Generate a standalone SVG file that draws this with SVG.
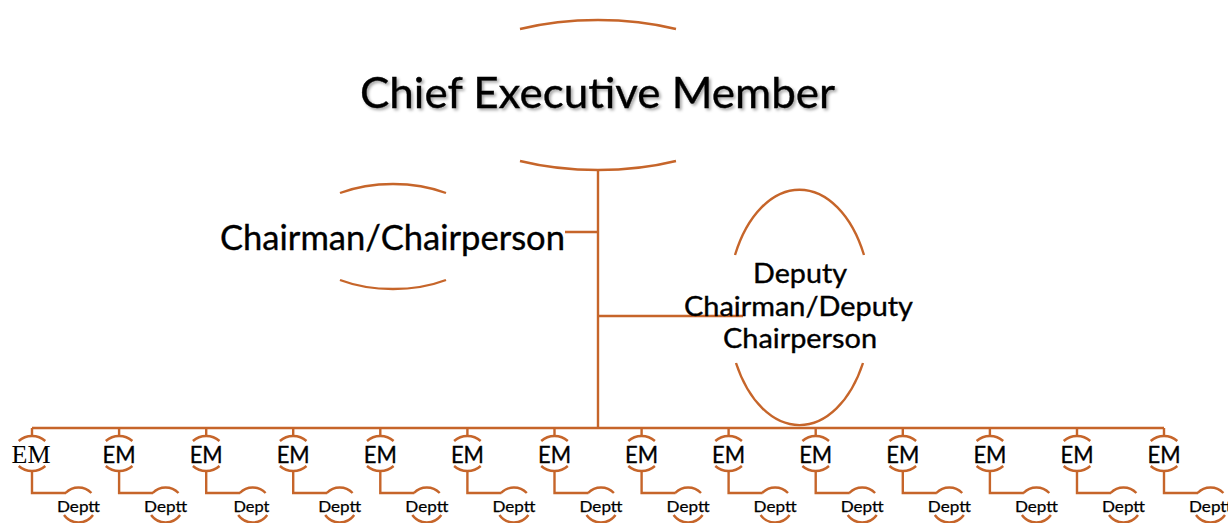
<svg xmlns="http://www.w3.org/2000/svg" xmlns:xlink="http://www.w3.org/1999/xlink" width="1228" height="523" viewBox="0 0 1228 523">
  <style>
    .arc { fill: none; stroke: #C6652A; stroke-width: 2.4; }
    .wire { fill: none; stroke: #C6652A; stroke-width: 2.4; }
    .lbl { font-family: Lato, "Open Sans", "Liberation Sans", sans-serif; fill: #000; stroke: #000; stroke-width: 0.35; text-anchor: middle; }
    .em { font-size: 23px; }
    .dept { font-size: 16px; stroke-width: 0.25; }
    .serif { font-family: "Liberation Serif", "DejaVu Serif", serif; font-size: 25px; fill: #000; text-anchor: middle; }
  </style>
  <defs>
    <!-- top and bottom arcs of the small member ellipse, centred on 0,0 -->
    <path id="em-arcs" class="arc" d="M-13.3,-12.5 A19,17.5 0 0 1 13.3,-12.5 M-13.3,12.5 A19,17.5 0 0 0 13.3,12.5"/>
    <!-- arcs of the department ellipse, centred on 0,0 -->
    <path id="dept-arcs" class="arc" d="M-12.9,-12 A17.7,17.5 0 0 1 12.9,-12 M-14.5,10 A17.7,17.5 0 0 0 14.5,10"/>
    <filter id="soft-shadow" x="-5%" y="-30%" width="110%" height="160%">
      <feDropShadow dx="2" dy="2" stdDeviation="1.5" flood-color="#000" flood-opacity="0.35"/>
    </filter>
  </defs>

  <rect width="1228" height="523" fill="#fff"/>

  <!-- connectors -->
  <g id="connectors">
    <path class="wire" d="M598,170 V428"/>
    <path class="wire" d="M565,232 H598"/>
    <path class="wire" d="M598,316 H743"/>
    <path class="wire" d="M32,428 H1164"/>
    <!-- stubs from bus to each member -->
    <path class="wire" d="M32,428 V436 M119.1,428 V436 M206.2,428 V436 M293.2,428 V436 M380.3,428 V436 M467.4,428 V436 M554.5,428 V436 M641.6,428 V436 M728.6,428 V436 M815.7,428 V436 M902.8,428 V436 M989.9,428 V436 M1077,428 V436 M1164,428 V436"/>
    <!-- elbows from each member down to its department -->
    <path class="wire" d="M32,471 V493 H66 M119.1,471 V493 H153.1 M206.2,471 V493 H240.2 M293.2,471 V493 H327.2 M380.3,471 V493 H414.3 M467.4,471 V493 H501.4 M554.5,471 V493 H588.5 M641.6,471 V493 H675.6 M728.6,471 V493 H762.6 M815.7,471 V493 H849.7 M902.8,471 V493 H936.8 M989.9,471 V493 H1023.9 M1077,471 V493 H1111 M1164,471 V493 H1198"/>
  </g>

  <!-- chief executive member -->
  <g id="chief">
    <path class="arc" d="M520,29 A164,75 0 0 1 676,29 M520,161 A164,75 0 0 0 676,161"/>
    <text class="lbl" x="597.5" y="108" font-size="42" textLength="475" lengthAdjust="spacingAndGlyphs" filter="url(#soft-shadow)">Chief Executive Member</text>
  </g>

  <!-- chairman -->
  <g id="chairman">
    <path class="arc" d="M340,193 A94,52 0 0 1 446,193 M340,280 A94,52 0 0 0 446,280"/>
    <text class="lbl" x="392.5" y="250" font-size="34" textLength="345" lengthAdjust="spacingAndGlyphs">Chairman/Chairperson</text>
  </g>

  <!-- deputy -->
  <g id="deputy">
    <path class="arc" d="M735,255 A72,117.5 0 0 1 864,255 M736,363 A72,117.5 0 0 0 863,363"/>
    <text class="lbl" x="800" y="283" font-size="26" textLength="94" lengthAdjust="spacingAndGlyphs">Deputy</text>
    <text class="lbl" x="798.5" y="316" font-size="26" textLength="229" lengthAdjust="spacingAndGlyphs">Chairman/Deputy</text>
    <text class="lbl" x="800" y="348" font-size="26" textLength="154" lengthAdjust="spacingAndGlyphs">Chairperson</text>
  </g>

  <!-- executive members -->
  <g id="em-1"><use xlink:href="#em-arcs" transform="translate(32,453.5)"/><text class="serif" x="31" y="462.5" textLength="39" lengthAdjust="spacingAndGlyphs">EM</text></g>
  <g id="em-2"><use xlink:href="#em-arcs" transform="translate(119.1,453.5)"/><text class="lbl em" x="119.1" y="462.5" textLength="33" lengthAdjust="spacingAndGlyphs">EM</text></g>
  <g id="em-3"><use xlink:href="#em-arcs" transform="translate(206.2,453.5)"/><text class="lbl em" x="206.2" y="462.5" textLength="33" lengthAdjust="spacingAndGlyphs">EM</text></g>
  <g id="em-4"><use xlink:href="#em-arcs" transform="translate(293.2,453.5)"/><text class="lbl em" x="293.2" y="462.5" textLength="33" lengthAdjust="spacingAndGlyphs">EM</text></g>
  <g id="em-5"><use xlink:href="#em-arcs" transform="translate(380.3,453.5)"/><text class="lbl em" x="380.3" y="462.5" textLength="33" lengthAdjust="spacingAndGlyphs">EM</text></g>
  <g id="em-6"><use xlink:href="#em-arcs" transform="translate(467.4,453.5)"/><text class="lbl em" x="467.4" y="462.5" textLength="33" lengthAdjust="spacingAndGlyphs">EM</text></g>
  <g id="em-7"><use xlink:href="#em-arcs" transform="translate(554.5,453.5)"/><text class="lbl em" x="554.5" y="462.5" textLength="33" lengthAdjust="spacingAndGlyphs">EM</text></g>
  <g id="em-8"><use xlink:href="#em-arcs" transform="translate(641.6,453.5)"/><text class="lbl em" x="641.6" y="462.5" textLength="33" lengthAdjust="spacingAndGlyphs">EM</text></g>
  <g id="em-9"><use xlink:href="#em-arcs" transform="translate(728.6,453.5)"/><text class="lbl em" x="728.6" y="462.5" textLength="33" lengthAdjust="spacingAndGlyphs">EM</text></g>
  <g id="em-10"><use xlink:href="#em-arcs" transform="translate(815.7,453.5)"/><text class="lbl em" x="815.7" y="462.5" textLength="33" lengthAdjust="spacingAndGlyphs">EM</text></g>
  <g id="em-11"><use xlink:href="#em-arcs" transform="translate(902.8,453.5)"/><text class="lbl em" x="902.8" y="462.5" textLength="33" lengthAdjust="spacingAndGlyphs">EM</text></g>
  <g id="em-12"><use xlink:href="#em-arcs" transform="translate(989.9,453.5)"/><text class="lbl em" x="989.9" y="462.5" textLength="33" lengthAdjust="spacingAndGlyphs">EM</text></g>
  <g id="em-13"><use xlink:href="#em-arcs" transform="translate(1077,453.5)"/><text class="lbl em" x="1077" y="462.5" textLength="33" lengthAdjust="spacingAndGlyphs">EM</text></g>
  <g id="em-14"><use xlink:href="#em-arcs" transform="translate(1164,453.5)"/><text class="lbl em" x="1164" y="462.5" textLength="33" lengthAdjust="spacingAndGlyphs">EM</text></g>

  <!-- departments -->
  <g id="dept-1"><use xlink:href="#dept-arcs" transform="translate(78.5,505)"/><text class="lbl dept" x="78.5" y="512" textLength="43" lengthAdjust="spacingAndGlyphs">Deptt</text></g>
  <g id="dept-2"><use xlink:href="#dept-arcs" transform="translate(165.6,505)"/><text class="lbl dept" x="165.6" y="512" textLength="43" lengthAdjust="spacingAndGlyphs">Deptt</text></g>
  <g id="dept-3"><use xlink:href="#dept-arcs" transform="translate(252.7,505)"/><text class="lbl dept" x="251.5" y="512" textLength="36" lengthAdjust="spacingAndGlyphs">Dept</text></g>
  <g id="dept-4"><use xlink:href="#dept-arcs" transform="translate(339.7,505)"/><text class="lbl dept" x="339.7" y="512" textLength="43" lengthAdjust="spacingAndGlyphs">Deptt</text></g>
  <g id="dept-5"><use xlink:href="#dept-arcs" transform="translate(426.8,505)"/><text class="lbl dept" x="426.8" y="512" textLength="43" lengthAdjust="spacingAndGlyphs">Deptt</text></g>
  <g id="dept-6"><use xlink:href="#dept-arcs" transform="translate(513.9,505)"/><text class="lbl dept" x="513.9" y="512" textLength="43" lengthAdjust="spacingAndGlyphs">Deptt</text></g>
  <g id="dept-7"><use xlink:href="#dept-arcs" transform="translate(601,505)"/><text class="lbl dept" x="601" y="512" textLength="43" lengthAdjust="spacingAndGlyphs">Deptt</text></g>
  <g id="dept-8"><use xlink:href="#dept-arcs" transform="translate(688.1,505)"/><text class="lbl dept" x="688.1" y="512" textLength="43" lengthAdjust="spacingAndGlyphs">Deptt</text></g>
  <g id="dept-9"><use xlink:href="#dept-arcs" transform="translate(775.1,505)"/><text class="lbl dept" x="775.1" y="512" textLength="43" lengthAdjust="spacingAndGlyphs">Deptt</text></g>
  <g id="dept-10"><use xlink:href="#dept-arcs" transform="translate(862.2,505)"/><text class="lbl dept" x="862.2" y="512" textLength="43" lengthAdjust="spacingAndGlyphs">Deptt</text></g>
  <g id="dept-11"><use xlink:href="#dept-arcs" transform="translate(949.3,505)"/><text class="lbl dept" x="949.3" y="512" textLength="43" lengthAdjust="spacingAndGlyphs">Deptt</text></g>
  <g id="dept-12"><use xlink:href="#dept-arcs" transform="translate(1036.4,505)"/><text class="lbl dept" x="1036.4" y="512" textLength="43" lengthAdjust="spacingAndGlyphs">Deptt</text></g>
  <g id="dept-13"><use xlink:href="#dept-arcs" transform="translate(1123.5,505)"/><text class="lbl dept" x="1123.5" y="512" textLength="43" lengthAdjust="spacingAndGlyphs">Deptt</text></g>
  <g id="dept-14"><use xlink:href="#dept-arcs" transform="translate(1210.5,505)"/><text class="lbl dept" x="1210.5" y="512" textLength="43" lengthAdjust="spacingAndGlyphs">Deptt</text></g>
</svg>
